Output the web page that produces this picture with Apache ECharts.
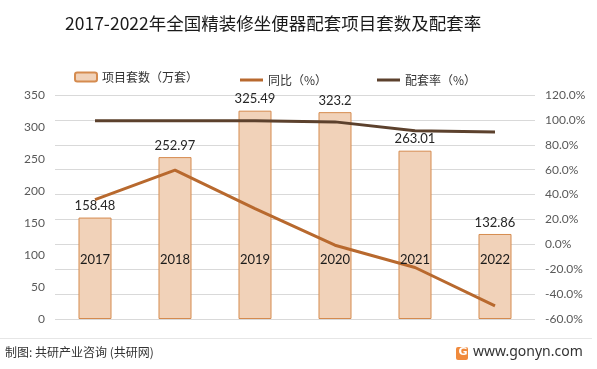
<!DOCTYPE html>
<html><head><meta charset="utf-8">
<script src="https://cdn.jsdelivr.net/npm/echarts@6/dist/echarts.min.js"></script>
<style>html,body{margin:0;padding:0;background:#fff}#c{width:597px;height:369px}</style>
</head><body><div id="c"></div>
<script>
var years = ['2017','2018','2019','2020','2021','2022'];
var projects = [158.48, 252.97, 325.49, 323.2, 263.01, 132.86];
var yoy = [36.0, 59.6, 28.7, -0.7, -18.6, -49.5];
var matchRate = [99.4, 99.4, 99.3, 98.4, 91.2, 90.3];
var leftTicks = {min:0, max:350, interval:50};
var rightTicks = {min:-60, max:120, interval:20};

var numFont = 'Lato, "Noto Sans CJK SC", sans-serif';
var cjkFont = '"Noto Sans CJK SC", sans-serif';
var chart = echarts.init(document.getElementById('c'), null, {renderer:'canvas'});
chart.setOption({
  animation:false,
  backgroundColor:'#fff',
  title:{text:'2017-2022年全国精装修坐便器配套项目套数及配套率', left:60, top:10,
    textStyle:{fontFamily:cjkFont, fontSize:17.5, fontWeight:'normal', color:'#1a1a1a'}},
  legend:[
    {data:['项目套数（万套）'], left:69, top:66, itemWidth:22, itemHeight:9, itemGap:5,
      textStyle:{fontFamily:cjkFont, fontSize:12, color:'#333'}},
    {data:[{name:'同比（%）', icon:'rect'}], left:235, top:69, itemWidth:23, itemHeight:3,
      textStyle:{fontFamily:cjkFont, fontSize:12, color:'#333'}},
    {data:[{name:'配套率（%）', icon:'rect'}], left:372, top:69, itemWidth:23, itemHeight:3,
      textStyle:{fontFamily:cjkFont, fontSize:12, color:'#333'}}
  ],
  grid:{left:55, right:62, top:95, bottom:50, containLabel:false},
  xAxis:{type:'category', data:years, z:10,
    axisLine:{show:false},
    axisTick:{show:false},
    axisLabel:{margin:-66, fontFamily:numFont, fontSize:13, color:'#1a1a1a'}},
  yAxis:[
    {type:'value', min:leftTicks.min, max:leftTicks.max, interval:leftTicks.interval,
      splitLine:{show:false}, axisLine:{show:false}, axisTick:{show:false},
      axisLabel:{fontFamily:numFont, fontSize:12, color:'#595959', margin:10}},
    {type:'value', min:rightTicks.min, max:rightTicks.max, interval:rightTicks.interval,
      splitLine:{show:true, lineStyle:{color:'#d9d9d9', width:1}},
      axisLine:{show:false}, axisTick:{show:false},
      axisLabel:{fontFamily:numFont, fontSize:12, color:'#595959', margin:10,
        formatter:function(v){return v.toFixed(1)+'%';}}}
  ],
  series:[
    {name:'项目套数（万套）', type:'bar', data:projects, yAxisIndex:0, barWidth:33,
      itemStyle:{color:'#F1D2B9', borderColor:'#D58B4F', borderWidth:1},
      label:{show:true, position:'top', distance:5, fontFamily:numFont, fontSize:13, color:'#262626'}},
    {name:'同比（%）', type:'line', data:yoy, yAxisIndex:1, symbol:'none', z:5,
      lineStyle:{color:'#B8692E', width:3}, itemStyle:{color:'#B8692E'}},
    {name:'配套率（%）', type:'line', data:matchRate, yAxisIndex:1, symbol:'none', z:5,
      lineStyle:{color:'#5C412D', width:3}, itemStyle:{color:'#5C412D'}}
  ],
  graphic:[
    {type:'line', shape:{x1:0, y1:338.5, x2:592, y2:338.5}, style:{stroke:'#e6e6e6', lineWidth:1}},
    {type:'text', left:5, top:346, style:{text:'制图: 共研产业咨询 (共研网)', font:'12px "Noto Sans CJK SC", sans-serif', fill:'#333'}},
    {type:'rect', shape:{x:456, y:347, width:12, height:13, r:2}, style:{fill:'#F08A3C'}},
    {type:'text', x:458.5, y:347, style:{text:'G', font:'bold 11px "DejaVu Sans", sans-serif', fill:'#fff'}},
    {type:'text', left:473, top:345, style:{text:'www.gonyn.com', font:'14px "Noto Sans", sans-serif', fill:'#333'}}
  ]
});
</script></body></html>
